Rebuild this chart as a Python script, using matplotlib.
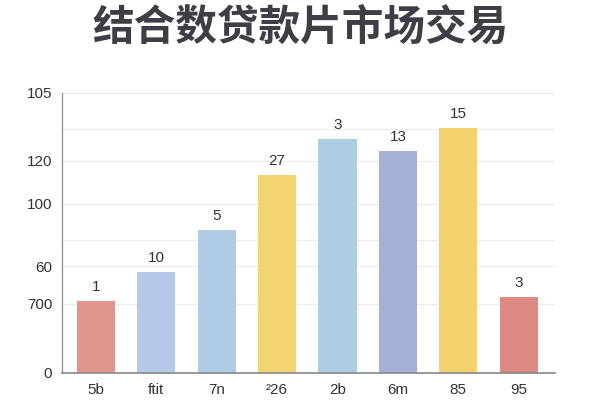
import matplotlib
matplotlib.use("Agg")
import matplotlib.pyplot as plt
from matplotlib.ticker import FixedLocator, FixedFormatter

plt.rcParams['font.family'] = ['Liberation Sans', 'DejaVu Sans']

title = "结合数贷款片市场交易"
categories = ["5b", "ftit", "7n", "²26", "2b", "6m", "85", "95"]
values = [27.0, 37.9, 53.6, 74.3, 87.8, 83.3, 92.0, 28.6]
bar_labels = ["1", "10", "5", "27", "3", "13", "15", "3"]
colors = ["#E0958F", "#B5C8EA", "#AFCCE4", "#F3D472", "#AECDE3", "#A5B0D6", "#F3D26E", "#DC8983"]

ytick_values = [0, 25.9, 40.1, 63.4, 79.5, 105]
ytick_labels = ["0", "700", "60", "100", "120", "105"]
grid_values = [25.9, 40.1, 49.9, 63.4, 79.5, 91.5, 105]

fig = plt.figure(figsize=(6, 4), dpi=100)
fig.patch.set_facecolor("white")
ax = fig.add_axes([62/600, 27/400, (555-62)/600, (373-93)/400])

x = list(range(len(categories)))
bars = ax.bar(x, values, width=0.63, color=colors, zorder=2)

for xi, v, lab in zip(x, values, bar_labels):
    ax.annotate(lab, (xi, v), xytext=(0, 5), textcoords="offset points",
                ha="center", va="bottom", fontsize=11, color="#333333")

ax.set_xlim(-0.56, 7.6)
ax.set_ylim(0, 105)

for g in grid_values:
    ax.axhline(g, color="#EBEBEB", linewidth=0.8, zorder=0)

ax.yaxis.set_major_locator(FixedLocator(ytick_values))
ax.yaxis.set_major_formatter(FixedFormatter(ytick_labels))
ax.set_xticks(x)
ax.set_xticklabels(categories)
ax.tick_params(axis="both", length=0, labelsize=11, colors="#333333")
ax.tick_params(axis="y", pad=7)
ax.tick_params(axis="x", pad=7)

for s in ["top", "right"]:
    ax.spines[s].set_visible(False)
ax.spines["left"].set_color("#999999")
ax.spines["bottom"].set_color("#888888")
ax.spines["left"].set_linewidth(1.0)
ax.spines["bottom"].set_linewidth(1.2)

fig.text(0.5, 1 - 28/400, title, ha="center", va="center", fontsize=30,
         fontweight="bold", color="#3E3E46",
         family=['Noto Sans CJK SC', 'DejaVu Sans'])

fig.savefig("out.png", dpi=100, facecolor="white")
